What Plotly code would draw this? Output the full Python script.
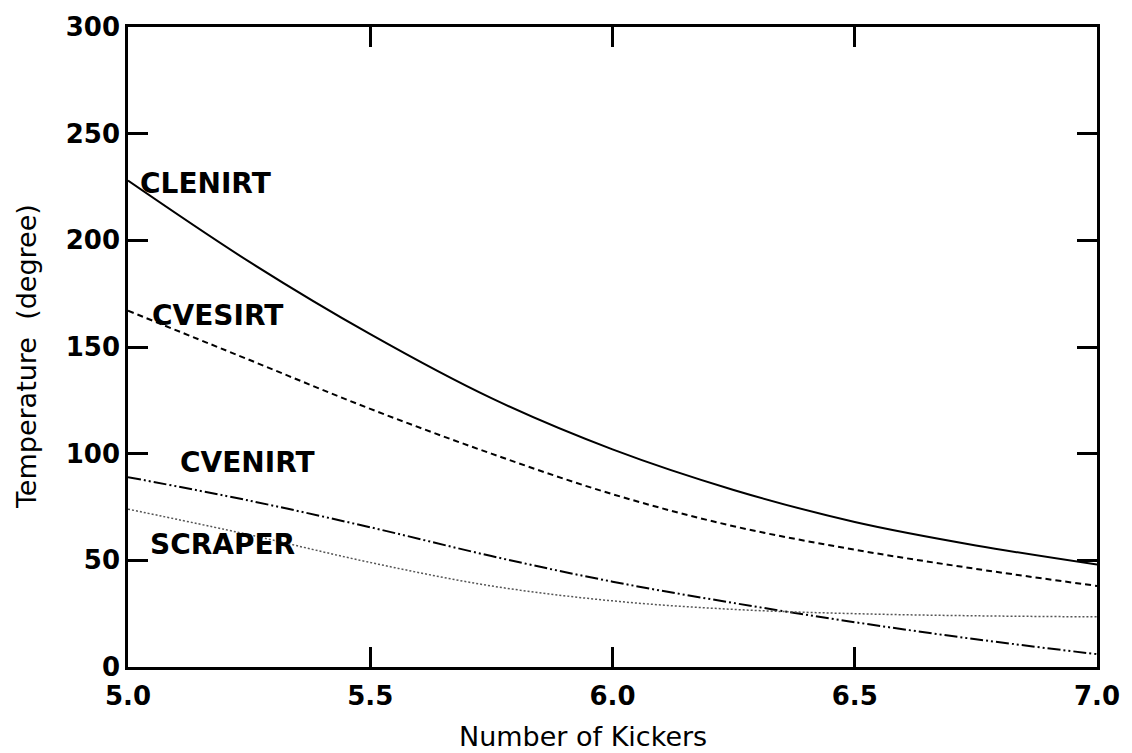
import plotly.graph_objects as go

# ---- data ----
kickers = [5.0, 5.25, 5.5, 5.75, 6.0, 6.25, 6.5, 6.75, 7.0]
clenirt = [228, 190, 156, 126, 102, 83, 68, 57, 48]
cvesirt = [167, 144, 121, 100, 81, 66, 55, 46, 38]
cvenirt = [89, 78, 65.5, 52, 40, 30, 21, 13, 6]
scraper = [74, 62, 49, 38, 31, 27, 25, 24, 23.5]

series_names = ["CLENIRT", "CVESIRT", "CVENIRT", "SCRAPER"]
label_x = [5.02, 5.045, 5.103, 5.041]
label_y = [226.7, 165, 96, 57.5]

x_ticks = [5.0, 5.5, 6.0, 6.5, 7.0]
y_ticks = [0, 50, 100, 150, 200, 250, 300]

FONT = "DejaVu Sans"

fig = go.Figure()
styles = [
    dict(color="black", width=2, dash="solid"),
    dict(color="black", width=2, dash="6px,4px"),
    dict(color="black", width=2, dash="13px,3px,2px,3px,2px,3px"),
    dict(color="#555555", width=1.5, dash="2px,2px"),
]
for name, ys, st in zip(series_names, [clenirt, cvesirt, cvenirt, scraper], styles):
    fig.add_trace(go.Scatter(x=kickers, y=ys, mode="lines", name=name,
                             line=dict(shape="spline", smoothing=1, **st),
                             showlegend=False, hoverinfo="skip"))

for name, lx, ly in zip(series_names, label_x, label_y):
    fig.add_annotation(x=lx, y=ly, xref="x", yref="y", text=f"<b>{name}</b>", showarrow=False,
                       xanchor="left", yanchor="middle",
                       font=dict(family=FONT, size=28, color="black"))

# axis titles
fig.add_annotation(x=0.47, y=-0.108, xref="paper", yref="paper", text="Number of Kickers",
                   showarrow=False, xanchor="center", yanchor="middle",
                   font=dict(family=FONT, size=27, color="black"))
fig.add_annotation(x=-0.1048, y=0.485, xref="paper", yref="paper",
                   text="Temperature\u00a0 (degree)", textangle=-90,
                   showarrow=False, xanchor="center", yanchor="middle",
                   font=dict(family=FONT, size=27, color="black"))

axis_common = dict(showline=True, linecolor="black", linewidth=2.5, mirror="ticks",
                   ticks="inside", ticklen=20, tickwidth=2.5, tickcolor="black",
                   showgrid=False, zeroline=False,
                   tickfont=dict(family=FONT, size=26, color="black", weight="bold"))

fig.update_xaxes(range=[5.0, 7.0], tickvals=x_ticks, ticklabelstandoff=4,
                 ticktext=[f"{v:.1f}" for v in x_ticks], **axis_common)
fig.update_yaxes(range=[0, 300], tickvals=y_ticks,
                 ticktext=[str(v) for v in y_ticks], **axis_common)

fig.update_layout(width=1132, height=753, margin=dict(l=128, r=31, t=20, b=86),
                  plot_bgcolor="white", paper_bgcolor="white",
                  font=dict(family=FONT, color="black"))

fig.write_html("out.html")
